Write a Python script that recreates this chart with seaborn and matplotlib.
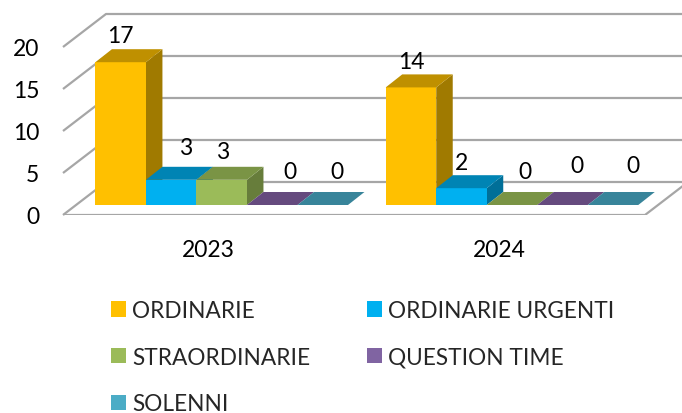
import matplotlib
matplotlib.use('Agg')
import matplotlib.pyplot as plt
from matplotlib.patches import Polygon
import pandas as pd
import seaborn as sns

years = ['2023', '2024']
session_types = ['ORDINARIE', 'ORDINARIE URGENTI', 'STRAORDINARIE', 'QUESTION TIME', 'SOLENNI']
counts_2023 = [17, 3, 3, 0, 0]
counts_2024 = [14, 2, 0, 0, 0]
y_ticks = [0, 5, 10, 15, 20]

front_colors = ['#FFC000', '#00B0F0', '#9BBB59', '#8064A2', '#4BACC6']
top_colors = ['#BF9000', '#0084B4', '#7A9445', '#654A7E', '#38849A']
side_colors = ['#A07A00', '#006F98', '#677D3B', '#553E6A', '#2F6F82']

# offsets of the value labels from the bar top centre, in pixels
label_dx = [[0, 14, 1, 18, 14], [0, 0, 13, 14, 20]]
label_dy = [[27, 32, 28, 33, 33], [26, 26, 33, 39, 39]]

# sizes in pixels
W, H = 682, 414
px_x = 290.3   # one category
px_y = 8.4     # one count
cx0 = 221.7    # pixel x of first category
base_y = 206   # pixel y of count 0
left, bottom = 63, 216
FS = 16.5
LEGEND_FS = 16.3

rows = []
for year, vals in zip(years, [counts_2023, counts_2024]):
    for t, v in zip(session_types, vals):
        rows.append({'anno': year, 'tipo': t, 'sedute': v})
df = pd.DataFrame(rows)

sns.set_theme(style='white')
plt.rcParams['font.family'] = ['Lato', 'DejaVu Sans']

fig = plt.figure(figsize=(W / 100, H / 100), dpi=100)
ax = fig.add_axes([left / W, (H - bottom) / H, (W - left) / W, bottom / H])

sns.barplot(data=df, x='anno', y='sedute', hue='tipo', hue_order=session_types,
            palette=front_colors, width=0.87, gap=0, saturation=1, ax=ax,
            linewidth=0, zorder=5, errorbar=None)

ax.set_xlim((left - cx0) / px_x, (W - cx0) / px_x)
ax.set_ylim((base_y - bottom) / px_y, base_y / px_y)
sns.despine(ax=ax, left=True, bottom=True)

# walls and floor
floor = (base_y - bottom) / px_y
wall_dx, wall_dy = 43 / px_x, 33 / px_y
x0 = ax.get_xlim()[0]
x_right = (645 - cx0) / px_x
grid = dict(color='#A6A6A6', lw=1.6, zorder=1, solid_capstyle='butt')
for t in y_ticks:
    yf = t + floor
    ax.plot([x0, x0 + wall_dx, ax.get_xlim()[1]], [yf, yf + wall_dy, yf + wall_dy], clip_on=False, **grid)
ax.plot([x0, x_right, x_right + wall_dx], [floor, floor, floor + wall_dy], **grid)

# 3d faces of the bars
bar_dx, bar_dy = 16.5 / px_x, 13 / px_y
for i, container in enumerate(ax.containers):
    for j, bar in enumerate(container):
        xl, w, h = bar.get_x(), bar.get_width(), bar.get_height()
        xr = xl + w
        z = 2 + i
        ax.add_patch(Polygon([(xr, 0), (xr + bar_dx, bar_dy), (xr + bar_dx, h + bar_dy), (xr, h)],
                             fc=side_colors[i], ec='none', zorder=z))
        ax.add_patch(Polygon([(xl, h), (xr, h), (xr + bar_dx, h + bar_dy), (xl + bar_dx, h + bar_dy)],
                             fc=top_colors[i], ec='none', zorder=z + 0.5))
        bar.set_zorder(z + 0.2)
        ax.annotate(str(int(h)), (xl + w / 2, h), xytext=(label_dx[j][i], label_dy[j][i]),
                    textcoords='offset pixels', ha='center', va='center',
                    fontsize=FS, color='black', zorder=20)

ax.set_yticks([t + floor for t in y_ticks], [str(t) for t in y_ticks])
ax.set_xticks([i - 0.045 for i in range(len(years))], years)
ax.tick_params(axis='y', length=0, pad=17, labelsize=FS, labelcolor='black')
ax.tick_params(axis='x', length=0, pad=17, labelsize=FS, labelcolor='black')
ax.set_xlabel('')
ax.set_ylabel('')
ax.grid(False)
ax.patch.set_alpha(0)

handles, labels = ax.get_legend_handles_labels()
order = [0, 2, 4, 1, 3]
ax.legend([handles[k] for k in order], [labels[k] for k in order], ncol=2,
          loc='upper left', bbox_to_anchor=(111 / W, 1 - 301 / H), bbox_transform=fig.transFigure,
          frameon=False, fontsize=LEGEND_FS, borderpad=0, borderaxespad=0,
          handlelength=0.66, handleheight=0.66, handletextpad=0.27,
          labelspacing=1.13, columnspacing=2.5)

fig.savefig('out.png', dpi=100)
